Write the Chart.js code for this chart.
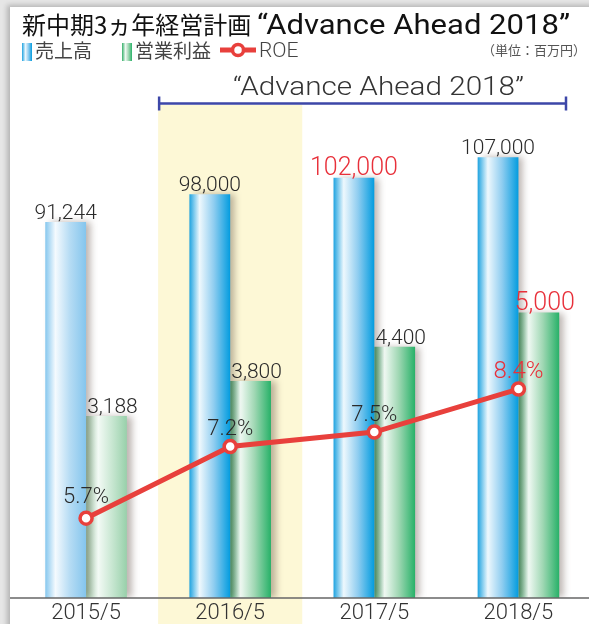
<!DOCTYPE html>
<html><head><meta charset="utf-8">
<script src="https://cdn.jsdelivr.net/npm/chart.js@4.4.1/dist/chart.umd.min.js"></script>
<style>
html,body{margin:0;padding:0;width:589px;height:624px;overflow:hidden;background:#e6e6e6;}
#panel{position:absolute;left:10px;top:7px;width:640px;height:660px;background:#fff;box-shadow:-3px -2px 5px rgba(0,0,0,0.22);}
#wrap{position:absolute;left:0;top:0;width:600px;height:624px;}
.hd{position:absolute;white-space:nowrap;color:#222;}
.jp{font-family:"Noto Sans CJK JP",sans-serif;}
.en{font-family:Roboto,"Liberation Sans",sans-serif;}
.fit{display:inline-block;transform-origin:0 50%;}
#title{left:22px;top:6px;font-size:24px;color:#111;}
#title .en{font-size:27px;}
.lg{top:37px;font-size:19px;line-height:26px;color:#444;}
.sw{display:inline-block;width:10px;height:18px;vertical-align:-3px;margin-right:3px;}
#unit{right:3px;top:40px;font-size:13px;color:#555;}
#sub{left:233px;top:71px;font-size:26px;font-weight:300;color:#333;}
</style></head>
<body>
<div id="panel"></div>
<div id="wrap"><canvas id="c" width="600" height="624"></canvas></div>
<div id="title" class="hd"><span class="jp">新中期3ヵ年経営計画</span> <span class="en fit" data-w="313">“Advance Ahead 2018”</span></div>
<div class="hd lg jp" style="left:22px"><span class="sw" style="background:linear-gradient(90deg,#1fa3e0,#e9f6fd 35%,#8ccbef 65%,#079ddf)"></span>売上高</div>
<div class="hd lg jp" style="left:122px"><span class="sw" style="background:linear-gradient(90deg,#35b06a,#eef8f1 35%,#9fd6b2 65%,#2bb36a)"></span>営業利益</div>
<div class="hd lg" style="left:219px"><svg width="38" height="18" style="vertical-align:-2px"><line x1="1" y1="9" x2="37" y2="9" stroke="#e8403c" stroke-width="5"/><circle cx="19" cy="9" r="5.5" fill="#fff" stroke="#e8403c" stroke-width="3.5"/></svg><span class="en" style="font-weight:300;font-size:21px;margin-left:2px">ROE</span></div>
<div id="unit" class="hd jp">（単位：百万円）</div>
<div id="sub" class="hd"><span class="en fit" data-w="291" style="font-weight:300">“Advance Ahead 2018”</span></div>
<script>
const categories = ['2015/5','2016/5','2017/5','2018/5'];
const sales = [91244, 98000, 102000, 107000];
const operatingIncome = [3188, 3800, 4400, 5000];
const roe = [5.7, 7.2, 7.5, 8.4];
const salesLabels = ['91,244','98,000','102,000','107,000'];
const incomeLabels = ['3,188','3,800','4,400','5,000'];
const roeLabels = ['5.7%','7.2%','7.5%','8.4%'];
const redSales = [false,false,true,false];
const redIncome = [false,false,false,true];
const redRoe = [false,false,false,true];
const highlightIndex = 1;

document.querySelectorAll('.fit').forEach(el=>{
  const w = el.getBoundingClientRect().width;
  const t = parseFloat(el.dataset.w);
  if(w>0) el.style.transform = 'scaleX(' + (t/w) + ')';
});

const CAT_PCT = 0.566;
const RED = '#e8303a', DARK = '#2a2a2a';
const LABEL_FONT = 'Roboto, "Liberation Sans", sans-serif';

function barGrad(c, kind){
  const chart = c.chart;
  const xs = chart.scales && chart.scales.x;
  if(!chart.chartArea || !xs || c.dataIndex === undefined) return kind==='blue' ? '#7cc4ec' : '#7fcb9a';
  const center = xs.getPixelForValue(c.dataIndex);
  const catW = xs.width / categories.length;
  const gw = catW * CAT_PCT;
  const x0 = kind==='blue' ? center - gw/2 : center;
  const x1 = kind==='blue' ? center : center + gw/2;
  const g = chart.ctx.createLinearGradient(x0, 0, x1, 0);
  const pale = c.dataIndex === 0;
  if(kind==='blue'){
    if(pale){
      g.addColorStop(0,'#86c7ee'); g.addColorStop(0.25,'#f4fafe'); g.addColorStop(0.6,'#b6dcf4'); g.addColorStop(1,'#84c5ed');
    } else {
      g.addColorStop(0,'#1ea3e0'); g.addColorStop(0.25,'#eef8fd'); g.addColorStop(0.6,'#8fcdf0'); g.addColorStop(1,'#039cdf');
    }
  } else {
    if(pale){
      g.addColorStop(0,'#a5d3b2'); g.addColorStop(0.3,'#f3faf5'); g.addColorStop(0.7,'#c0e3cb'); g.addColorStop(1,'#98d0aa');
    } else {
      g.addColorStop(0,'#49ad74'); g.addColorStop(0.25,'#f0f9f3'); g.addColorStop(0.6,'#9fd7b3'); g.addColorStop(1,'#27b168');
    }
  }
  return g;
}

const decor = {
  id:'decor',
  beforeDraw(chart){
    const {ctx, chartArea, scales:{x}} = chart;
    const catW = x.width / categories.length;
    const hx = x.getPixelForValue(highlightIndex);
    ctx.save();
    ctx.fillStyle = '#fdf8d6';
    ctx.fillRect(hx - catW/2, chartArea.top, catW, chart.height - chartArea.top);
    const bx0 = hx - catW/2 + 1;
    const bx1 = x.getPixelForValue(categories.length-1) + catW*0.33;
    const by = chartArea.top - 1.5;
    ctx.strokeStyle = '#3d47a8'; ctx.lineWidth = 2.5;
    ctx.beginPath();
    ctx.moveTo(bx0, by); ctx.lineTo(bx1, by);
    ctx.moveTo(bx0, by-7); ctx.lineTo(bx0, by+7);
    ctx.moveTo(bx1, by-7); ctx.lineTo(bx1, by+7);
    ctx.stroke();
    ctx.restore();
  },
  beforeDatasetDraw(chart, args){
    if(args.meta.type === 'bar'){
      const ctx = chart.ctx;
      ctx.save();
      ctx.shadowColor = 'rgba(80,60,50,0.38)';
      ctx.shadowBlur = 7;
      ctx.shadowOffsetX = 5;
      ctx.shadowOffsetY = 0;
    }
  },
  afterDatasetDraw(chart, args){
    if(args.meta.type === 'bar') chart.ctx.restore();
  },
  afterDatasetsDraw(chart){
    const {ctx, chartArea} = chart;
    ctx.save();
    ctx.strokeStyle = '#666'; ctx.lineWidth = 1.5;
    ctx.beginPath(); ctx.moveTo(10, chartArea.bottom); ctx.lineTo(chart.width, chartArea.bottom); ctx.stroke();
    ctx.textAlign = 'center'; ctx.textBaseline = 'alphabetic';
    const m0 = chart.getDatasetMeta(0).data, m1 = chart.getDatasetMeta(1).data;
    m0.forEach((b,i)=>{
      ctx.fillStyle = redSales[i] ? RED : DARK;
      ctx.font = (redSales[i] ? '300 25px ' : '300 21px ') + LABEL_FONT;
      ctx.fillText(salesLabels[i], b.x, b.y - 3);
    });
    m1.forEach((b,i)=>{
      ctx.fillStyle = redIncome[i] ? RED : DARK;
      ctx.font = (redIncome[i] ? '300 25px ' : '300 21px ') + LABEL_FONT;
      ctx.fillText(incomeLabels[i], b.x + 6, b.y - 3);
    });
    ctx.restore();
  },
  afterDraw(chart){
    const {ctx} = chart;
    const m2 = chart.getDatasetMeta(2).data;
    ctx.save();
    ctx.textAlign = 'center'; ctx.textBaseline = 'alphabetic';
    m2.forEach((p,i)=>{
      ctx.fillStyle = redRoe[i] ? RED : DARK;
      ctx.font = (redRoe[i] ? '300 24px ' : '300 22px ') + LABEL_FONT;
      ctx.fillText(roeLabels[i], p.x, p.y - (i===0 ? 15 : 11));
    });
    ctx.restore();
  }
};

new Chart(document.getElementById('c'), {
  data:{
    labels: categories,
    datasets:[
      {type:'bar', label:'売上高', data:sales, yAxisID:'y', order:2,
       backgroundColor:c=>barGrad(c,'blue'), borderWidth:0,
       categoryPercentage:CAT_PCT, barPercentage:1},
      {type:'bar', label:'営業利益', data:operatingIncome, yAxisID:'y2', order:2,
       backgroundColor:c=>barGrad(c,'green'), borderWidth:0,
       categoryPercentage:CAT_PCT, barPercentage:1},
      {type:'line', label:'ROE', data:roe, yAxisID:'y3', order:0,
       borderColor:'#e8403c', borderWidth:5, pointRadius:6, pointHoverRadius:6,
       pointBackgroundColor:'#fff', pointBorderColor:'#e8403c', pointBorderWidth:3.5,
       tension:0, fill:false}
    ]
  },
  options:{
    responsive:false, animation:false,
    layout:{padding:{top:105, left:14, right:6, bottom:0}},
    plugins:{legend:{display:false}, tooltip:{enabled:false}, title:{display:false}},
    scales:{
      x:{offset:true, grid:{display:false, drawTicks:false}, border:{display:false},
         ticks:{color:'#333', padding:2, font:{family:LABEL_FONT, size:22, weight:300}},
         afterFit(s){ s.height = 26; }},
      y:{display:false, min:0, max:119660},
      y2:{display:false, min:0, max:8634},
      y3:{display:false, min:4.03, max:14.34}
    }
  },
  plugins:[decor]
});
</script>
</body></html>
